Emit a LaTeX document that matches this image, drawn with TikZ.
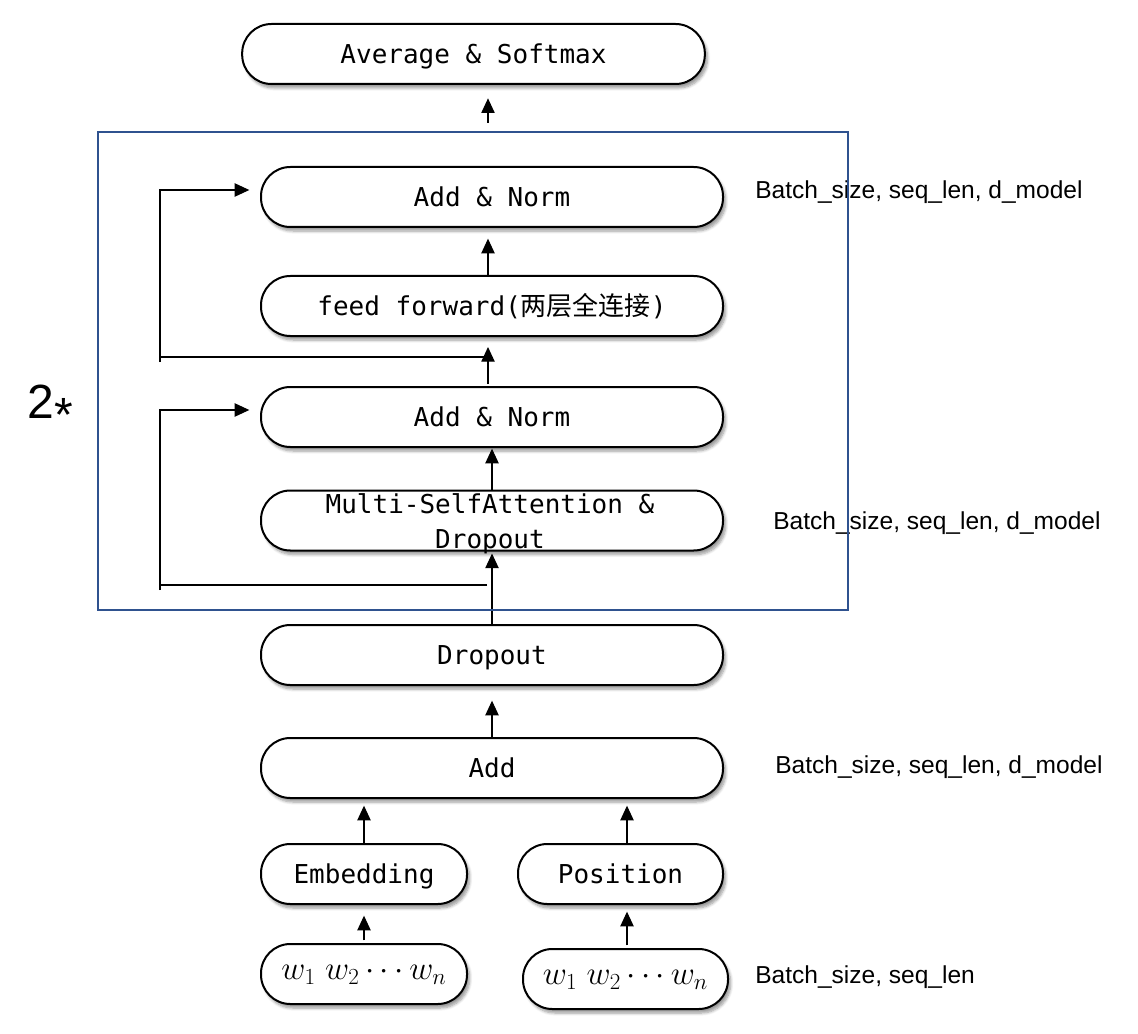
\documentclass[tikz,border=0pt]{standalone}
\usepackage{fontspec}
\setmainfont{Liberation Sans}
\setmonofont{DejaVu Sans Mono}
\newfontfamily\cjk{Noto Sans CJK SC}
\usetikzlibrary{arrows.meta,shadows.blur,calc}
\definecolor{frameblue}{RGB}{47,82,143}

\begin{document}
\begin{tikzpicture}[x=0.75pt,y=-0.75pt,
  blk/.style={draw=black, line width=1.5pt, fill=white, rounded corners=22pt,
    minimum height=45pt, inner sep=0pt, text height=14.2pt, text depth=0pt,
    font=\fontsize{19.5}{23}\selectfont\ttfamily,
    blur shadow={shadow xshift=2pt, shadow yshift=-3pt, shadow blur steps=6, shadow opacity=40}},
  arr/.style={line width=0.9pt, -{Triangle[length=11pt,width=10pt]}},
  lnk/.style={line width=0.9pt},
  dim/.style={font=\fontsize{18.4}{22}\selectfont, anchor=west, inner sep=0pt},
  wseq/.style={font=\fontsize{23.5}{28}\selectfont, text height=10.8pt, text depth=3pt}
]
\useasboundingbox (0,0) rectangle (1138,1034);

% blocks
\node[blk, minimum width=347pt] (avg) at (473.5,54) {Average \& Softmax};
\node[blk, minimum width=346.5pt] (an1) at (492,197) {Add \& Norm};
\node[blk, minimum width=346.5pt] (ff) at (492,306) {feed forward({\cjk 两层全连接})};
\node[blk, minimum width=346.5pt] (an2) at (492,417) {Add \& Norm};
\node[blk, minimum width=346.5pt] (msa) at (492,520.5) {};
\node[font=\fontsize{19.5}{26}\selectfont\ttfamily, align=center, inner sep=0pt] (msatext) at (490,523.5) {Multi-SelfAttention \&\\Dropout};
\node[blk, minimum width=346.5pt] (drop) at (492,655) {Dropout};
\node[blk, minimum width=346.5pt] (add) at (492,768) {Add};
\node[blk, minimum width=154.5pt] (emb) at (364,874) {Embedding};
\node[blk, minimum width=153.75pt] (pos) at (620.5,874) {Position};
\node[blk, minimum width=154.5pt, wseq] (win1) at (364,974) {$w_1\;w_2 \cdots w_n$};
\node[blk, minimum width=153.75pt, wseq] (win2) at (625.5,979) {$w_1\;w_2 \cdots w_n$};

% vertical guide positions for the connectors
\coordinate (cx) at (488,0);
\coordinate (cm) at (492,0);
\coordinate (t0) at (488,123);

% main flow
\draw[arr, shorten >=10pt] (t0) -- (t0 |- avg.south);
\draw[arr, shorten >=8pt] (cx |- ff.north) -- (cx |- an1.south);
\draw[arr, shorten >=7.5pt] ([yshift=1.5pt]cx |- an2.north) -- (cx |- ff.south);
\draw[arr, shorten >=0.5pt] (cm |- msa.north) -- (cm |- an2.south);
\draw[arr, shorten >=1.5pt] (cm |- drop.north) -- (cm |- msa.south);
\draw[arr, shorten >=11pt] (cm |- add.north) -- (cm |- drop.south);
\draw[arr, shorten >=5pt] (emb.north) -- (emb.north |- add.south);
\draw[arr, shorten >=5pt] (pos.north -| 627,0) -- (add.south -| 627,0);
\draw[arr, shorten >=8pt] ([yshift=2pt]win1.north) -- (emb.south);
\draw[arr, shorten >=5pt] ([yshift=2pt]win2.north -| 627,0) -- (pos.south -| 627,0);

% residual connections
\coordinate (j1) at (488,357);
\coordinate (k1b) at (160,362);
\coordinate (k1t) at (160,190);
\draw[lnk] (j1) -- (j1 -| k1b);
\draw[arr, shorten >=8pt] (k1b) -- (k1t) -- (k1t -| an1.west);

\coordinate (j2) at (487,585);
\coordinate (k2b) at (160,590);
\coordinate (k2t) at (160,410);
\draw[lnk] (j2) -- (j2 -| k2b);
\draw[arr, shorten >=8pt] (k2b) -- (k2t) -- (k2t -| an2.west);

% tensor shapes
\node[dim] (d1) at (755,192) {Batch\_size, seq\_len, d\_model};
\node[dim] (d2) at (773,523) {Batch\_size, seq\_len, d\_model};
\node[dim] (d3) at (775,767) {Batch\_size, seq\_len, d\_model};
\node[dim] (d4) at (755,977) {Batch\_size, seq\_len};

% repeated encoder stack
\node[font=\fontsize{36}{40}\selectfont, inner sep=0pt] (rep) at (50,408) {2\raisebox{-0.28em}{*}};
\node[draw=frameblue, line width=2.2pt, minimum width=562.5pt, minimum height=358.5pt, inner sep=0pt] (stack) at (473,371) {};
\end{tikzpicture}
\end{document}
